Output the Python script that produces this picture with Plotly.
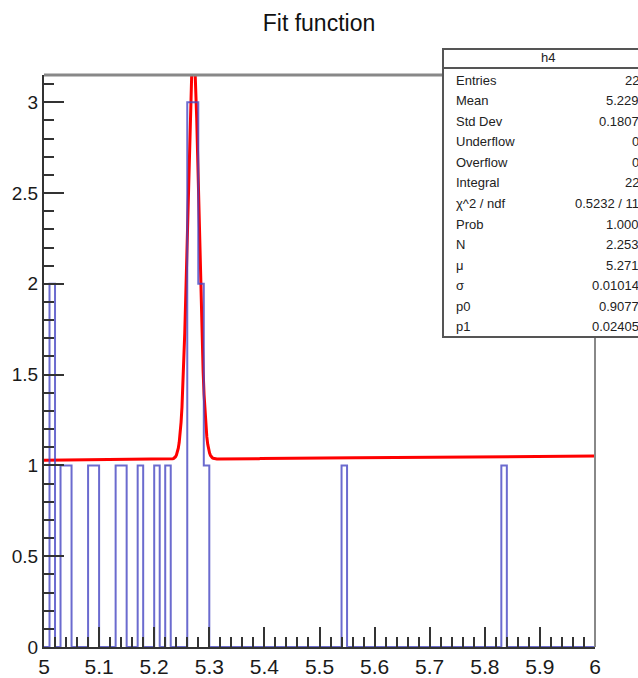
import numpy as np
import plotly.graph_objects as go

# ---- data ----
bin_width = 0.01
x_min, x_max = 5.0, 6.0
filled_bin_low = [5.01, 5.03, 5.04, 5.08, 5.09, 5.13, 5.14, 5.17, 5.20, 5.22,
                  5.26, 5.27, 5.28, 5.29, 5.54, 5.83]
filled_counts = [2, 1, 1, 1, 1, 1, 1, 1, 1, 1,
                 3, 3, 2, 1, 1, 1]

# fit parameters (gaus + pol1)
fit_N, fit_mu, fit_sigma, fit_p0, fit_p1 = 2.253, 5.271, 0.01014, 0.9077, 0.02405

stat_labels = ["Entries", "Mean", "Std Dev", "Underflow", "Overflow", "Integral",
               "χ^2 / ndf", "Prob", "N", "μ", "σ", "p0", "p1"]
stat_values = ["22", "5.229", "0.1807", "0", "0", "22",
               "0.5232 / 11", "1.000", "2.253", "5.271", "0.01014", "0.9077", "0.02405"]

# ---- build histogram outline ----
nbins = int(round((x_max - x_min) / bin_width))
edges = np.round(x_min + bin_width * np.arange(nbins + 1), 4)
counts = np.zeros(nbins)
for lo, c in zip(filled_bin_low, filled_counts):
    counts[int(round((lo - x_min) / bin_width))] = c
hx = [edges[0]] + list(edges)
hy = [0] + list(counts) + [0]

fx = np.linspace(x_min, x_max, 600)
fy = fit_N * np.exp(-0.5 * ((fx - fit_mu) / fit_sigma) ** 2) + fit_p0 + fit_p1 * fx

FONT = "Liberation Sans, Arial, Helvetica, sans-serif"

fig = go.Figure()
fig.add_trace(go.Scatter(x=fx, y=fy, mode="lines",
                         line=dict(color="#ff0000", width=3), hoverinfo="skip"))
fig.add_trace(go.Scatter(x=hx, y=hy, mode="lines", line_shape="hv",
                         line=dict(color="rgba(70,70,195,0.8)", width=2), hoverinfo="skip"))

W, H = 638, 678
L, R, T, B = 44, 43, 75, 31
pw, ph = W - L - R, H - T - B


def px(xv):
    return (xv - L) / pw


def py(yv):
    return (H - B - yv) / ph


shapes = [
    dict(type="line", xref="paper", yref="paper", x0=0, x1=1, y0=1, y1=1,
         line=dict(color="#888888", width=3)),
    dict(type="line", xref="paper", yref="paper", x0=1, x1=1, y0=0, y1=1,
         line=dict(color="#888888", width=2)),
    # stats box
    dict(type="rect", xref="paper", yref="paper", x0=px(443), x1=px(665),
         y0=py(337), y1=py(49), fillcolor="white",
         line=dict(color="#555555", width=2), layer="above"),
    dict(type="line", xref="paper", yref="paper", x0=px(443), x1=px(665),
         y0=py(68), y1=py(68), line=dict(color="#555555", width=2), layer="above"),
]

annotations = [
    dict(text="h4", xref="paper", yref="paper", x=px(548), y=py(58),
         xanchor="center", yanchor="middle", showarrow=False,
         font=dict(family=FONT, size=13, color="#222"))
]
for i, (lab, val) in enumerate(zip(stat_labels, stat_values)):
    yy = 80 + i * 20.58
    annotations.append(dict(text=lab, xref="paper", yref="paper", x=px(454), y=py(yy),
                            xanchor="left", yanchor="middle", showarrow=False,
                            font=dict(family=FONT, size=13, color="#222")))
    annotations.append(dict(text=val, xref="paper", yref="paper", x=px(641), y=py(yy),
                            xanchor="right", yanchor="middle", showarrow=False,
                            font=dict(family=FONT, size=13, color="#222")))

fig.update_layout(
    width=W, height=H,
    margin=dict(l=L, r=R, t=T, b=B, autoexpand=False),
    paper_bgcolor="white", plot_bgcolor="white",
    showlegend=False,
    title=dict(text="Fit function", x=px(319), xref="paper", xanchor="center",
               y=1 - 23 / H, yanchor="middle", yref="container",
               font=dict(family=FONT, size=23, color="#111")),
    xaxis=dict(range=[x_min, x_max], dtick=0.1, tick0=5, automargin=False,
               ticks="inside", ticklen=20, tickwidth=2, tickcolor="#333",
               minor=dict(ticks="inside", ticklen=10, dtick=0.02, tickwidth=2, tickcolor="#333"),
               showline=True, linecolor="#333", linewidth=2,
               showgrid=False, zeroline=False,
               tickfont=dict(family=FONT, size=21, color="#1a1a1a")),
    yaxis=dict(range=[0, 3.15], dtick=0.5, tick0=0, automargin=False,
               ticks="inside", ticklen=20, tickwidth=2, tickcolor="#333",
               minor=dict(ticks="inside", ticklen=10, dtick=0.1, tickwidth=2, tickcolor="#333"),
               showline=True, linecolor="#333", linewidth=2,
               showgrid=False, zeroline=False,
               tickfont=dict(family=FONT, size=19, color="#1a1a1a")),
    shapes=shapes,
    annotations=annotations,
)

fig.write_html(
    "out.html",
    config={"displayModeBar": False, "staticPlot": True},
    post_script="document.body.style.margin='0';"
                "document.documentElement.style.overflow='hidden';"
                "document.body.style.overflow='hidden';",
)
